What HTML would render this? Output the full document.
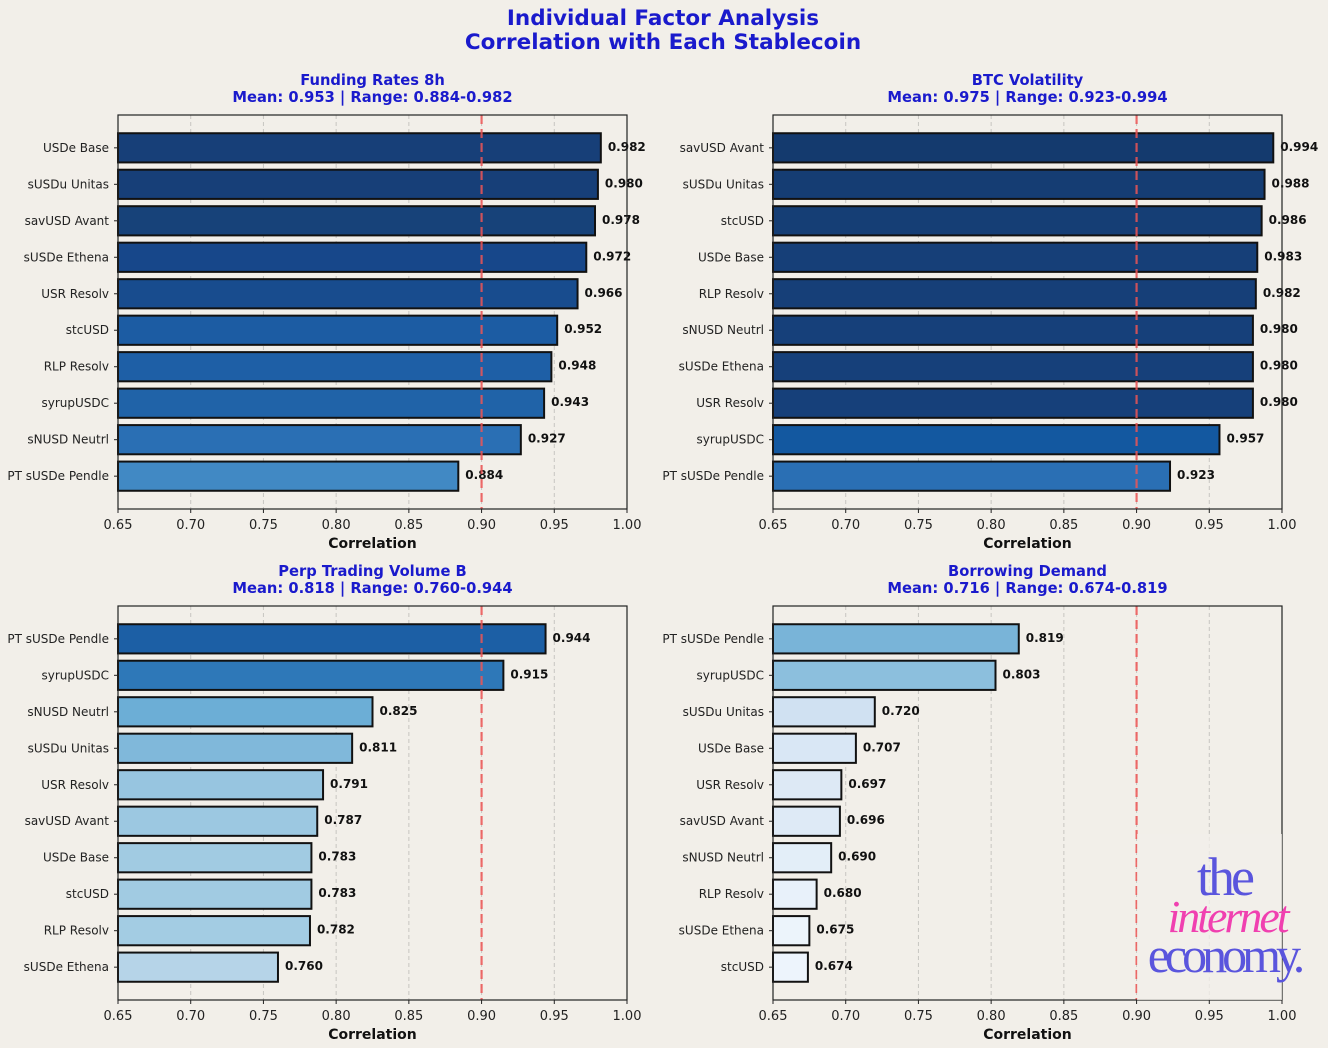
<!DOCTYPE html>
<html><head><meta charset="utf-8"><style>
html,body{margin:0;padding:0;background:#f2efe9;}
svg{display:block;font-family:"DejaVu Sans","Liberation Sans",sans-serif;}
</style></head><body>
<svg id="fig" width="1328" height="1048" viewBox="0 0 1328 1048">
<rect width="1328" height="1048" fill="#f2efe9"/>
<text x="663" y="25" text-anchor="middle" font-size="21.5" font-weight="bold" fill="#1a1acc">Individual Factor Analysis</text>
<text x="663" y="49" text-anchor="middle" font-size="21.5" font-weight="bold" fill="#1a1acc">Correlation with Each Stablecoin</text>
</svg>
<script>
const titles1=["Funding Rates 8h","BTC Volatility","Perp Trading Volume B","Borrowing Demand"];
const titles2=["Mean: 0.953 | Range: 0.884-0.982","Mean: 0.975 | Range: 0.923-0.994","Mean: 0.818 | Range: 0.760-0.944","Mean: 0.716 | Range: 0.674-0.819"];
const labelsA=["USDe Base","sUSDu Unitas","savUSD Avant","sUSDe Ethena","USR Resolv","stcUSD","RLP Resolv","syrupUSDC","sNUSD Neutrl","PT sUSDe Pendle"];
const valuesA=[0.982,0.980,0.978,0.972,0.966,0.952,0.948,0.943,0.927,0.884];
const colorsA=["#173f78","#173f78","#174279","#17478a","#184c8e","#1c5ca3","#1e5fa6","#2063a8","#2a6fb4","#4189c4"];
const labelsB=["savUSD Avant","sUSDu Unitas","stcUSD","USDe Base","RLP Resolv","sNUSD Neutrl","sUSDe Ethena","USR Resolv","syrupUSDC","PT sUSDe Pendle"];
const valuesB=[0.994,0.988,0.986,0.983,0.982,0.980,0.980,0.980,0.957,0.923];
const colorsB=["#143a6e","#153d73","#153e75","#163f78","#163f78","#16407a","#16407a","#16407a","#1358a0","#2a6fb4"];
const labelsC=["PT sUSDe Pendle","syrupUSDC","sNUSD Neutrl","sUSDu Unitas","USR Resolv","savUSD Avant","USDe Base","stcUSD","RLP Resolv","sUSDe Ethena"];
const valuesC=[0.944,0.915,0.825,0.811,0.791,0.787,0.783,0.783,0.782,0.760];
const colorsC=["#1c5fa5","#2e78b8","#6caed6","#80b8da","#97c5e0","#9cc8e1","#a1cbe2","#a1cbe2","#a3cce3","#b6d4e8"];
const labelsD=["PT sUSDe Pendle","syrupUSDC","sUSDu Unitas","USDe Base","USR Resolv","savUSD Avant","sNUSD Neutrl","RLP Resolv","sUSDe Ethena","stcUSD"];
const valuesD=[0.819,0.803,0.720,0.707,0.697,0.696,0.690,0.680,0.675,0.674];
const colorsD=["#79b4d8","#8cbfdd","#d0e1f2","#d9e7f5","#dde9f5","#deeaf6","#e3eef8","#e8f1fa","#ecf4fb","#edf4fc"];
const ticks=[0.65,0.70,0.75,0.80,0.85,0.90,0.95,1.00];
const tickLabels=["0.65","0.70","0.75","0.80","0.85","0.90","0.95","1.00"];
const threshold=0.90;

const NS="http://www.w3.org/2000/svg";
const svg=document.getElementById('fig');
function mk(tag,attrs,parent){const e=document.createElementNS(NS,tag);for(const k in attrs)e.setAttribute(k,attrs[k]);(parent||svg).appendChild(e);return e;}
const panels=[
 {x:118,y:115,L:labelsA,V:valuesA,C:colorsA,key:"funding-rates"},
 {x:773,y:115,L:labelsB,V:valuesB,C:colorsB,key:"btc-volatility"},
 {x:118,y:606,L:labelsC,V:valuesC,C:colorsC,key:"perp-volume"},
 {x:773,y:606,L:labelsD,V:valuesD,C:colorsD,key:"borrowing-demand"}];
const W=509,H=394,xmin=0.65,xmax=1.0;
panels.forEach((p,pi)=>{
 const g=mk('g',{});
 
 
 const X=v=>p.x+(v-xmin)/(xmax-xmin)*W;
 const n=p.L.length, unit=H/(n-1+1.8);
 const Y=i=>p.y+(0.9+i)*unit;
 const cx=p.x+W/2;
 let t=mk('text',{x:cx,y:p.y-30,'text-anchor':'middle','font-size':14.7,'font-weight':'bold',fill:'#1a1acc'},g);t.textContent=titles1[pi];
 
 
 t=mk('text',{x:cx,y:p.y-13,'text-anchor':'middle','font-size':14.7,'font-weight':'bold',fill:'#1a1acc'},g);t.textContent=titles2[pi];
 
 
 ticks.forEach((tv,ti)=>{
  const x=X(tv);
  if(ti>0&&ti<ticks.length-1){const gl=mk('line',{x1:x,x2:x,y1:p.y,y2:p.y+H,stroke:'#c8c6c1','stroke-width':1,'stroke-dasharray':'4,3'},g);
   
   }
  mk('line',{x1:x,x2:x,y1:p.y+H,y2:p.y+H+4,stroke:'#222'},g);
  const tl=mk('text',{x:x,y:p.y+H+20,'text-anchor':'middle','font-size':13,fill:'#222'},g);tl.textContent=tickLabels[ti];
  
  
 });
 p.V.forEach((v,i)=>{
  const yc=Y(i),bh=0.8*unit;
  const r=mk('rect',{x:p.x,y:yc-bh/2,width:X(v)-p.x,height:bh,fill:p.C[i],stroke:'#111','stroke-width':2},g);
  
  
  mk('line',{x1:p.x-4,x2:p.x,y1:yc,y2:yc,stroke:'#222'},g);
  const lb=mk('text',{x:p.x-9,y:yc+4,'text-anchor':'end','font-size':12,fill:'#222'},g);lb.textContent=p.L[i];
  
  
  const vl=mk('text',{x:X(v)+7,y:yc+3,'font-size':12,'font-weight':'bold',fill:'#111'},g);vl.textContent=v.toFixed(3);
  
  
 });
 const th=mk('line',{x1:X(threshold),x2:X(threshold),y1:p.y,y2:p.y+H,stroke:'#ee5555','stroke-width':2.2,'stroke-dasharray':'9,5',opacity:0.85},g);
 
 
 const fr=mk('rect',{x:p.x,y:p.y,width:W,height:H,fill:'none',stroke:'#222','stroke-width':1.2},g);
 
 
 const xt=mk('text',{x:cx,y:p.y+H+39,'text-anchor':'middle','font-size':14,'font-weight':'bold',fill:'#111'},g);xt.textContent='Correlation';
 
 
});
const wm=mk('g',{});


mk('rect',{x:1137,y:834,width:145,height:166,fill:'#f2efe9',opacity:0.75},wm);
let w1=mk('text',{x:1224,y:895,'text-anchor':'middle','font-family':'Liberation Serif, serif','font-size':54,fill:'#5a55dd','letter-spacing':-4},wm);w1.textContent='the';
let w2=mk('text',{x:1227,y:932,'text-anchor':'middle','font-family':'Liberation Serif, serif','font-style':'italic','font-size':46,fill:'#f040b0','letter-spacing':-3},wm);w2.textContent='internet';
let w3=mk('text',{x:1224,y:972,'text-anchor':'middle','font-family':'Liberation Serif, serif','font-size':50,fill:'#5a55dd','letter-spacing':-5},wm);w3.textContent='economy.';
</script>
</body></html>
